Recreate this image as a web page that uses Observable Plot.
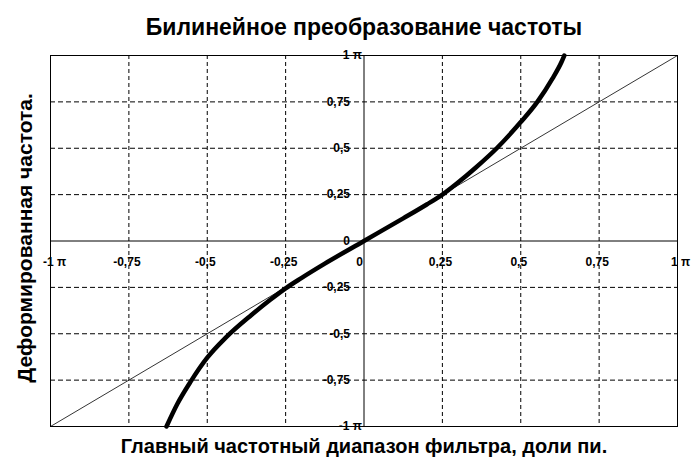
<!DOCTYPE html>
<html>
<head>
<meta charset="utf-8">
<script src="https://cdn.jsdelivr.net/npm/d3@7"></script>
<script src="https://cdn.jsdelivr.net/npm/@observablehq/plot@0.6"></script>
<style>
  body { margin: 0; background: #fff; }
  svg { display: block; }
</style>
</head>
<body>
<div id="chart"></div>
<script>
const titleText = "Билинейное преобразование частоты";
const xLabel = "Главный частотный диапазон фильтра, доли пи.";
const yLabel = "Деформированная частота.";

const gridValues = [-0.75, -0.5, -0.25, 0.25, 0.5, 0.75];

const xTicks = [-1, -0.75, -0.5, -0.25, 0, 0.25, 0.5, 0.75, 1];
const xTickLabels = ["-1 π", "-0,75", "-0,5", "-0,25", "0", "0,25", "0,5", "0,75", "1 π"];
const yTicks = [1, 0.75, 0.5, 0.25, 0, -0.25, -0.5, -0.75, -1];
const yTickLabels = ["1 π", "0,75", "0,5", "0,25", "0", "-0,25", "-0,5", "-0,75", "-1 π"];

const diagX = [-1, 1];
const diagY = [-1, 1];

const curveX = [-0.63, -0.596, -0.553, -0.5, -0.441, -0.36, -0.3, -0.25, -0.2, -0.125, 0, 0.125, 0.2, 0.25, 0.3, 0.356, 0.4235, 0.484, 0.5, 0.553, 0.601, 0.63, 0.639];
const curveY = [-1.0, -0.88, -0.758, -0.629, -0.521, -0.4, -0.318, -0.255, -0.2, -0.122, 0, 0.122, 0.197, 0.25, 0.315, 0.395, 0.5, 0.61, 0.641, 0.75, 0.875, 0.965, 1.0];

const curve = curveX.map((x, i) => ({x, y: curveY[i]}));
const diag = diagX.map((x, i) => ({x, y: diagY[i]}));
const xt = xTicks.map((v, i) => ({v, label: xTickLabels[i]}));
const yt = yTicks.map((v, i) => ({v, label: yTickLabels[i]}));

const tickFont = {fontFamily: "'Liberation Sans', Arial, sans-serif", fontWeight: "bold", fontSize: 12, fill: "black"};

const chart = Plot.plot({
  width: 700,
  height: 470,
  marginLeft: 50,
  marginRight: 23,
  marginTop: 55,
  marginBottom: 44,
  x: {domain: [-1, 1], axis: null},
  y: {domain: [-1, 1], axis: null},
  style: {fontFamily: "'Liberation Sans', Arial, sans-serif", background: "white"},
  marks: [
    Plot.ruleX(gridValues, {stroke: "black", strokeWidth: 1, strokeDasharray: "4,3"}),
    Plot.ruleY(gridValues, {stroke: "black", strokeWidth: 1, strokeDasharray: "5,3"}),
    Plot.ruleX([0], {stroke: "black", strokeWidth: 1}),
    Plot.ruleY([0], {stroke: "black", strokeWidth: 1}),
    Plot.frame({stroke: "black", strokeWidth: 1}),
    Plot.line(diag, {x: "x", y: "y", stroke: "black", strokeWidth: 0.8}),
    Plot.line(curve, {x: "x", y: "y", stroke: "black", strokeWidth: 4.5, curve: "monotone-x"}),
    // x tick labels
    Plot.text(xt.filter(d => Math.abs(d.v) !== 1 && d.v !== 0), {x: "v", y: () => 0, text: "label", dy: 21, dx: -2, textAnchor: "middle", ...tickFont, letterSpacing: "0.5px"}),
    Plot.text(xt.filter(d => d.v === 0), {x: "v", y: () => 0, text: "label", dy: 21, dx: -1, textAnchor: "end", ...tickFont}),
    Plot.text(xt.filter(d => d.v === -1), {x: "v", y: () => 0, text: "label", dy: 21, dx: 4, textAnchor: "middle", ...tickFont}),
    Plot.text(xt.filter(d => d.v === 1), {x: "v", y: () => 0, text: "label", dy: 21, dx: 3, textAnchor: "middle", ...tickFont}),
    // y tick labels
    Plot.text(yt.filter(d => Math.abs(d.v) !== 1), {x: () => 0, y: "v", text: "label", dx: -14, textAnchor: "end", ...tickFont, letterSpacing: "0.5px"}),
    Plot.text(yt.filter(d => Math.abs(d.v) === 1), {x: () => 0, y: "v", text: "label", dx: -2, textAnchor: "end", ...tickFont}),
    // titles
    Plot.text([titleText], {frameAnchor: "top", dy: -28, lineAnchor: "middle", textAnchor: "middle", fontSize: 23, fontWeight: "bold", fill: "black"}),
    Plot.text([xLabel], {frameAnchor: "bottom", dy: 20, lineAnchor: "middle", textAnchor: "middle", fontSize: 20, fontWeight: "bold", fill: "black"}),
    Plot.text([yLabel], {frameAnchor: "left", dx: -25, dy: -3, lineAnchor: "middle", textAnchor: "middle", rotate: -90, fontSize: 21, fontWeight: "bold", fill: "black"})
  ]
});
document.getElementById("chart").appendChild(chart);
</script>
</body>
</html>
